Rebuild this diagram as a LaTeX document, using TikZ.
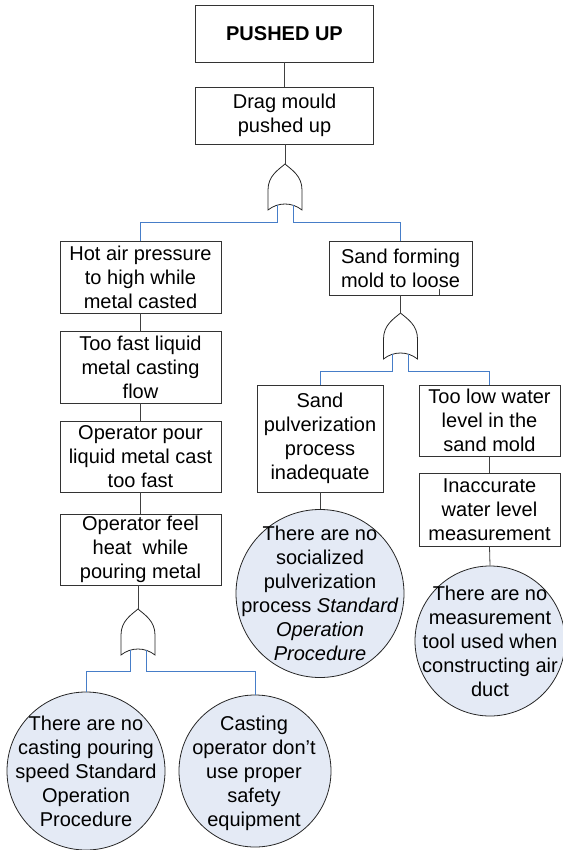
\documentclass[tikz,border=0pt]{standalone}
\usepackage{fontspec}
\setmainfont{Liberation Sans}
\usetikzlibrary{calc}
\definecolor{evfill}{RGB}{228,234,245}
\definecolor{busblue}{RGB}{70,125,200}
\begin{document}
\begin{tikzpicture}[x=1pt,y=-1pt,
  every node/.style={font=\fontsize{20}{24}\selectfont, text=black},
  box/.style={draw=black!80, line width=0.8pt, fill=white, align=center, inner sep=0pt},
  basic/.style={draw=black!85, line width=0.8pt, fill=evfill, circle, inner sep=0pt},
  basictext/.style={align=center, inner sep=0pt},
  link/.style={draw=black!75, line width=0.8pt},
  blink/.style={draw=busblue, line width=0.8pt},
  pics/orgate/.style={code={
    \draw[draw=black!85, line width=0.8pt, fill=white]
      (0,0) .. controls (-7,6) and (-17,12) .. (-17,26) -- (-17,46)
      .. controls (-7,38) and (7,38) .. (17,46) -- (17,26)
      .. controls (17,12) and (7,6) .. (0,0) -- cycle;
    \coordinate (-top) at (0,0);
    \coordinate (-l) at (-8,41);
    \coordinate (-r) at (8,41);
  }}
]
\useasboundingbox (0,0) rectangle (562,850);

% top event and its direct cause
\node[box, minimum width=178pt, minimum height=57pt] (top) at (284.5,33.5) {\textbf{PUSHED UP}};
\node[box, minimum width=178pt, minimum height=57pt] (drag) at (284.5,115.5) {Drag mould\\pushed up};
\pic (g1) at (285,164) {orgate};

% left branch
\node[box, minimum width=161pt, minimum height=72pt] (hot) at (140.5,277) {Hot air pressure\\to high while\\metal casted};
\node[box, minimum width=161pt, minimum height=72pt] (fast) at (140.5,367) {Too fast liquid\\metal casting\\flow};
\node[box, minimum width=161pt, minimum height=71pt] (pour) at (140.5,456.5) {Operator pour\\liquid metal cast\\too fast};
\node[box, minimum width=161pt, minimum height=71pt] (feel) at (140.5,549.5) {Operator feel\\heat~ while\\pouring metal};
\pic (g3) at (138,609) {orgate};
\node[basic, minimum size=158pt] (c3) at (86,771) {};
\node[basictext] (c3t) at (c3) {There are no\\casting pouring\\speed Standard\\Operation\\Procedure};
\node[basic, minimum size=152pt] (c4) at (255,771) {};
\node[basictext] (c4t) at (254,773) {Casting\\operator don’t\\use proper\\safety\\equipment};

% right branch
\node[box, minimum width=143pt, minimum height=54pt] (sand) at (400.5,268) {Sand forming\\mold to loose};
\pic (g2) at (400.5,313) {orgate};
\node[box, minimum width=126pt, minimum height=107pt] (pulv) at (320,438.5) {Sand\\pulverization\\process\\inadequate};
\node[box, minimum width=141pt, minimum height=71pt] (water) at (489.5,420.5) {Too low water\\level in the\\sand mold};
\node[box, minimum width=141pt, minimum height=73pt] (inacc) at (489.5,509.5) {Inaccurate\\water level\\measurement};
\node[basic, minimum size=168pt] (c1) at (320,593.5) {};
\node[basictext] (c1t) at (c1) {There are no\\socialized\\pulverization\\process \textit{Standard}\\\textit{Operation}\\\textit{Procedure}};
\node[basic, minimum size=150pt] (c2) at (490,641) {};
\node[basictext] (c2t) at (c2) {There are no\\measurement\\tool used when\\constructing air\\duct};

% black connectors
\draw[link] (top) -- (drag);
\draw[link] (g1-top |- drag.south) -- (g1-top);
\draw[link] (hot) -- (fast);
\draw[link] (fast) -- (pour);
\draw[link] (pour) -- (feel);
\draw[link] (g3-top |- feel.south) -- (g3-top);
\draw[link] (sand.south) -- (g2-top);
\draw[link] (pulv.south) -- (c1.north);
\draw[link] (water) -- (inacc);
\draw[link] (inacc.south) -- (c2.north);
\draw[link] ($(sand.south)+(38.5,0)$) -- ++(0,-6);

% blue input buses of the OR gates
\draw[blink] (g1-l) -- ++(0,17) -| (hot.north);
\draw[blink] (g1-r) -- ++(0,17) -| (sand.north);
\draw[blink] (g2-l) -- ++(0,17) -| (pulv.north);
\draw[blink] (g2-r) -- ++(0,17) -| (water.north);
\draw[blink] (g3-l) -- ++(0,21) -| (c3.north);
\draw[blink] (g3-r) -- ++(0,21) -| (c4.north);
\end{tikzpicture}
\end{document}
